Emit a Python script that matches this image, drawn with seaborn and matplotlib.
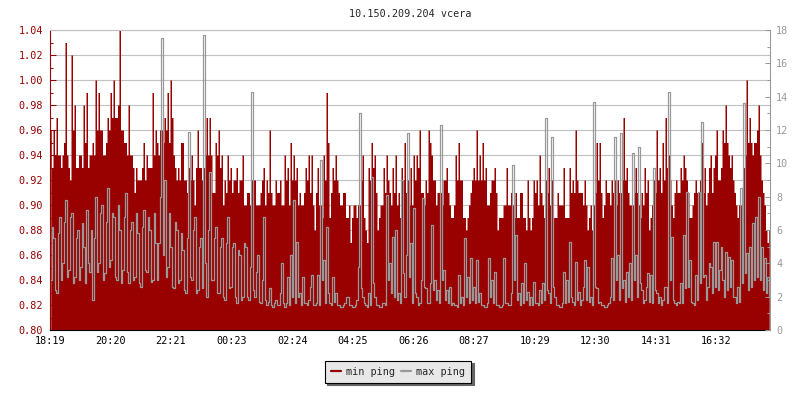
import numpy as np
import matplotlib
matplotlib.use("Agg")
import matplotlib.pyplot as plt
from matplotlib.lines import Line2D
from matplotlib.ticker import MultipleLocator, FormatStrFormatter
import seaborn as sns

sns.set_style("white")
plt.rcParams["font.family"] = ["DejaVu Sans Mono"]
plt.rcParams["path.simplify"] = False

title = "10.150.209.204 vcera"
tick_minutes = [0, 121, 242, 364, 485, 606, 727, 848, 970, 1091, 1212, 1333]
tick_labels = ["18:19", "20:20", "22:21", "00:23", "02:24", "04:25",
               "06:26", "08:27", "10:29", "12:30", "14:31", "16:32"]

# one sample every 3 minutes, 24 h starting 18:19 (ms)
min_ping = [
    0.96, 0.93, 0.96, 0.94, 0.97, 0.94, 0.94, 0.93, 0.94, 0.95, 1.03, 0.94, 0.93, 0.92, 1.02, 0.96, 0.98, 0.93, 0.93, 0.94,
    0.94, 0.93, 0.98, 0.95, 0.99, 0.93, 0.94, 0.94, 0.95, 0.94, 1.00, 0.96, 0.99, 0.96, 0.96, 0.94, 0.94, 0.95, 0.97, 0.96,
    0.99, 0.97, 1.00, 0.97, 0.97, 0.98, 1.04, 0.96, 0.96, 0.95, 0.95, 0.94, 0.98, 0.94, 0.94, 0.93, 0.91, 0.93, 0.92, 0.92,
    0.92, 0.93, 0.95, 0.92, 0.94, 0.93, 0.93, 0.93, 0.99, 0.94, 0.96, 0.95, 0.94, 0.96, 0.96, 0.95, 0.97, 0.96, 0.99, 0.95,
    1.00, 0.97, 0.94, 0.93, 0.92, 0.93, 0.92, 0.95, 0.95, 0.92, 0.92, 0.91, 0.93, 0.92, 0.94, 0.92, 0.90, 0.93, 0.96, 0.93,
    0.93, 0.92, 0.93, 0.94, 0.97, 0.94, 0.97, 0.94, 0.91, 0.91, 0.95, 0.94, 0.96, 0.93, 0.94, 0.90, 0.92, 0.91, 0.94, 0.92,
    0.93, 0.91, 0.92, 0.92, 0.93, 0.91, 0.92, 0.92, 0.94, 0.90, 0.90, 0.91, 0.91, 0.90, 0.92, 0.92, 0.92, 0.90, 0.90, 0.90,
    0.91, 0.92, 0.93, 0.90, 0.92, 0.91, 0.96, 0.91, 0.90, 0.90, 0.92, 0.91, 0.91, 0.92, 0.90, 0.90, 0.94, 0.92, 0.93, 0.90,
    0.95, 0.92, 0.94, 0.92, 0.93, 0.90, 0.91, 0.90, 0.90, 0.91, 0.93, 0.92, 0.94, 0.91, 0.94, 0.90, 0.88, 0.91, 0.93, 0.90,
    0.90, 0.89, 0.94, 0.92, 0.99, 0.95, 0.89, 0.91, 0.93, 0.92, 0.94, 0.92, 0.91, 0.90, 0.90, 0.91, 0.91, 0.89, 0.89, 0.90,
    0.87, 0.89, 0.90, 0.90, 0.89, 0.90, 0.90, 0.92, 0.94, 0.89, 0.88, 0.87, 0.93, 0.92, 0.95, 0.93, 0.94, 0.91, 0.88, 0.89,
    0.90, 0.90, 0.93, 0.91, 0.94, 0.92, 0.91, 0.90, 0.93, 0.91, 0.94, 0.90, 0.91, 0.89, 0.93, 0.92, 0.95, 0.91, 0.92, 0.90,
    0.93, 0.90, 0.94, 0.92, 0.94, 0.93, 0.96, 0.91, 0.91, 0.90, 0.92, 0.91, 0.96, 0.95, 0.94, 0.92, 0.92, 0.90, 0.91, 0.91,
    0.91, 0.90, 0.92, 0.92, 0.93, 0.91, 0.90, 0.89, 0.89, 0.90, 0.94, 0.92, 0.95, 0.92, 0.92, 0.89, 0.89, 0.88, 0.89, 0.90,
    0.91, 0.92, 0.93, 0.92, 0.96, 0.92, 0.94, 0.92, 0.95, 0.92, 0.93, 0.90, 0.90, 0.91, 0.92, 0.92, 0.93, 0.91, 0.88, 0.89,
    0.89, 0.89, 0.90, 0.90, 0.93, 0.90, 0.90, 0.91, 0.90, 0.89, 0.91, 0.89, 0.89, 0.91, 0.91, 0.89, 0.89, 0.88, 0.92, 0.89,
    0.88, 0.89, 0.92, 0.91, 0.92, 0.90, 0.94, 0.91, 0.90, 0.89, 0.92, 0.91, 0.93, 0.90, 0.92, 0.89, 0.89, 0.89, 0.91, 0.90,
    0.90, 0.90, 0.93, 0.89, 0.89, 0.89, 0.93, 0.91, 0.92, 0.91, 0.96, 0.92, 0.91, 0.91, 0.91, 0.90, 0.92, 0.90, 0.88, 0.89,
    0.90, 0.88, 0.90, 0.91, 0.95, 0.92, 0.95, 0.91, 0.89, 0.90, 0.92, 0.91, 0.91, 0.90, 0.92, 0.91, 0.92, 0.90, 0.92, 0.91,
    0.91, 0.92, 0.97, 0.92, 0.93, 0.91, 0.90, 0.90, 0.90, 0.91, 0.93, 0.91, 0.90, 0.89, 0.91, 0.90, 0.93, 0.91, 0.92, 0.88,
    0.89, 0.90, 0.92, 0.91, 0.96, 0.92, 0.93, 0.91, 0.95, 0.92, 0.97, 0.93, 0.94, 0.92, 0.90, 0.89, 0.91, 0.92, 0.91, 0.91,
    0.93, 0.92, 0.94, 0.93, 0.92, 0.91, 0.89, 0.89, 0.90, 0.91, 0.92, 0.91, 0.91, 0.92, 0.95, 0.91, 0.93, 0.90, 0.91, 0.93,
    0.94, 0.91, 0.93, 0.94, 0.96, 0.92, 0.92, 0.93, 0.96, 0.95, 0.98, 0.95, 0.94, 0.93, 0.94, 0.92, 0.91, 0.90, 0.89, 0.90,
    0.90, 0.91, 0.93, 0.94, 1.00, 0.95, 0.97, 0.95, 0.94, 0.95, 0.95, 0.96, 0.98, 0.94, 0.92, 0.91, 0.90, 0.88, 0.87, 0.88,
]
max_ping = [
    3.0, 6.2, 5.5, 2.4, 2.2, 5.8, 6.8, 3.0, 4.0, 6.5, 7.8, 3.2, 3.6, 6.8, 7.0, 2.8, 3.2, 5.5, 6.0, 3.0,
    3.8, 6.4, 5.0, 2.8, 7.2, 4.0, 3.5, 6.0, 1.8, 5.5, 8.0, 3.5, 4.0, 7.0, 7.5, 3.0, 3.4, 6.5, 8.5, 3.8,
    4.2, 7.0, 6.8, 3.2, 3.0, 7.5, 6.0, 2.8, 3.6, 6.8, 8.2, 3.5, 2.8, 6.0, 6.5, 3.0, 3.2, 7.0, 5.8, 2.8,
    2.6, 6.2, 7.2, 3.6, 3.5, 6.8, 6.0, 2.9, 3.0, 7.0, 5.2, 3.0, 5.2, 8.0, 17.5, 4.5, 9.0, 3.2, 3.8, 7.0,
    5.0, 2.6, 2.5, 6.5, 6.0, 2.8, 3.0, 5.8, 4.8, 2.4, 2.2, 5.5, 11.9, 3.2, 3.0, 6.0, 6.8, 2.2, 2.4, 5.0,
    5.5, 2.5, 17.7, 4.0, 2.0, 6.0, 9.5, 3.0, 3.0, 5.5, 6.2, 2.2, 2.2, 5.0, 5.5, 2.0, 1.8, 5.2, 6.8, 2.5,
    2.6, 5.0, 5.2, 2.0, 1.6, 4.8, 4.5, 1.8, 2.0, 5.2, 5.0, 2.0, 1.8, 3.8, 14.3, 2.4, 2.0, 3.5, 4.5, 1.7,
    1.6, 3.0, 6.8, 1.8, 1.5, 1.7, 2.5, 1.5, 1.4, 1.6, 1.8, 1.5, 1.5, 2.2, 4.0, 1.6, 1.4, 1.6, 3.2, 1.5,
    4.5, 2.0, 7.8, 1.6, 5.3, 2.0, 2.2, 1.5, 3.2, 1.6, 1.6, 1.5, 1.8, 2.6, 3.3, 1.5, 1.5, 1.6, 3.3, 1.5,
    10.2, 3.0, 4.2, 1.6, 6.2, 2.2, 1.6, 1.5, 3.2, 1.7, 2.2, 1.5, 1.5, 1.4, 1.4, 1.5, 1.6, 2.0, 2.0, 1.5,
    1.5, 1.4, 1.4, 1.5, 1.8, 3.8, 13.0, 2.5, 2.0, 1.6, 1.5, 1.4, 2.2, 1.5, 9.2, 2.8, 2.0, 1.5, 1.5, 1.4,
    1.4, 1.6, 1.6, 1.5, 8.1, 3.0, 4.0, 2.2, 5.6, 2.0, 6.0, 1.8, 2.2, 1.6, 9.0, 3.4, 2.0, 4.5, 11.8, 3.2,
    5.2, 1.6, 7.3, 2.2, 2.0, 1.5, 1.6, 3.0, 7.9, 2.6, 2.5, 1.6, 1.6, 2.8, 6.3, 2.4, 3.0, 1.8, 2.4, 1.6,
    12.3, 3.0, 3.6, 1.8, 2.4, 1.6, 2.6, 1.5, 1.6, 1.5, 1.5, 1.4, 3.3, 1.6, 2.0, 1.5, 5.5, 2.0, 3.2, 1.6,
    4.3, 1.8, 2.6, 1.6, 4.2, 1.7, 2.2, 1.5, 1.5, 1.4, 1.4, 1.6, 4.3, 2.0, 3.0, 1.6, 3.5, 1.5, 1.5, 1.4,
    1.4, 1.5, 4.3, 1.6, 1.6, 1.5, 1.5, 2.2, 9.9, 3.0, 5.7, 1.8, 2.2, 1.5, 2.8, 1.6, 4.0, 1.8, 2.3, 1.5,
    2.0, 1.5, 2.9, 1.6, 1.6, 1.5, 2.4, 1.6, 2.8, 1.8, 12.7, 2.4, 2.2, 1.6, 11.6, 2.6, 2.0, 1.5, 1.5, 1.4,
    1.4, 1.6, 3.5, 1.6, 3.0, 1.7, 5.3, 2.0, 1.7, 1.5, 4.1, 1.8, 2.3, 1.5, 1.8, 2.6, 4.2, 1.8, 3.8, 1.7,
    2.0, 1.5, 13.7, 2.6, 2.5, 1.6, 1.7, 1.5, 1.5, 1.4, 1.4, 1.5, 1.6, 2.0, 4.3, 1.8, 11.6, 3.0, 4.5, 1.8,
    11.8, 2.5, 3.0, 1.7, 3.5, 2.0, 4.0, 1.8, 10.6, 3.0, 4.5, 2.0, 11.0, 2.8, 2.4, 1.6, 1.8, 2.6, 3.4, 1.7,
    3.3, 1.6, 9.7, 2.4, 2.2, 1.6, 2.0, 1.5, 1.8, 2.6, 2.6, 1.6, 14.3, 3.0, 5.6, 1.8, 1.6, 1.5, 1.7, 1.6,
    2.8, 1.6, 5.7, 2.5, 8.3, 2.6, 4.2, 1.7, 1.6, 1.5, 3.3, 1.8, 8.3, 2.8, 12.5, 3.2, 3.3, 1.8, 2.6, 4.0,
    3.8, 2.2, 5.3, 2.6, 5.3, 2.4, 3.6, 5.0, 3.0, 2.0, 4.7, 2.4, 4.4, 2.6, 4.2, 2.0, 2.0, 1.6, 2.6, 1.7,
    8.5, 2.8, 13.6, 3.4, 4.6, 2.4, 5.0, 2.6, 6.4, 3.0, 6.8, 3.2, 8.0, 3.0, 5.0, 2.4, 4.3, 2.2, 3.2, 2.0,
]

RED = "#990000"
GREY = "#999999"
minutes = np.arange(len(min_ping)) * 3 + 1.5

fig = plt.figure(figsize=(8, 4), dpi=100, facecolor="white")
ax = fig.add_axes([0.0625, 0.175, 0.9, 0.75])

# min ping as a filled step area on the left axis
ax.fill_between(minutes, 0.80, min_ping, step="mid", color=RED, lw=0)
ax.set_xlim(0, 1440)
ax.set_ylim(0.80, 1.04)
ax.yaxis.set_major_locator(MultipleLocator(0.02))
ax.yaxis.set_minor_locator(MultipleLocator(0.01))
ax.yaxis.set_major_formatter(FormatStrFormatter("%.2f"))
ax.grid(axis="y", which="major", color="#c0c0c0", lw=0.8)
ax.set_axisbelow(True)
ax.set_xticks(tick_minutes, tick_labels)
ax.tick_params(axis="y", which="major", direction="in", length=4.3, width=0.75,
               colors=RED, labelsize=7.3, pad=5)
ax.tick_params(axis="y", which="minor", direction="in", length=2.4, width=0.75,
               colors=RED)
ax.tick_params(axis="x", direction="in", length=3.6, width=0.75, colors="black",
               labelsize=7.3, pad=4)
ax.spines["left"].set_color(RED)
ax.spines["top"].set_color("#c0c0c0")
ax.spines["right"].set_visible(False)
ax.spines["bottom"].set_color("black")
for s in ax.spines.values():
    s.set_linewidth(0.8)

# max ping as a stepped line on the right axis
ax2 = ax.twinx()
sns.lineplot(x=minutes, y=max_ping, color=GREY, lw=0.9, errorbar=None,
             drawstyle="steps-mid", ax=ax2)
ax2.set_ylim(0, 18)
ax2.set_xlim(0, 1440)
ax2.yaxis.set_major_locator(MultipleLocator(2))
ax2.yaxis.set_minor_locator(MultipleLocator(1))
ax2.tick_params(axis="y", which="major", direction="in", length=3.6, width=0.75,
                colors=GREY, labelsize=7.3, pad=4.5)
ax2.tick_params(axis="y", which="minor", direction="in", length=2.2, width=0.75,
                colors=GREY)
for side in ["left", "top", "bottom"]:
    ax2.spines[side].set_visible(False)
ax2.spines["right"].set_color(GREY)
ax2.spines["right"].set_linewidth(0.8)
ax2.set_ylabel("")

ax.set_title(title, fontsize=7.3, pad=9.5)

handles = [Line2D([], [], color=RED, lw=1.6), Line2D([], [], color=GREY, lw=1.6)]
leg = fig.legend(handles, ["min ping", "max ping"], loc="center",
                 bbox_to_anchor=(0.4975, 0.071), ncol=2, fontsize=7.3,
                 frameon=True, fancybox=False, framealpha=1,
                 facecolor="#e8e8e8", edgecolor="black",
                 shadow={"color": "#666666", "alpha": 1.0},
                 handlelength=1.0, handletextpad=0.5, columnspacing=0.6,
                 borderpad=0.6, borderaxespad=0)
leg.get_frame().set_linewidth(0.8)

fig.savefig("out.png", dpi=100, facecolor="white")
